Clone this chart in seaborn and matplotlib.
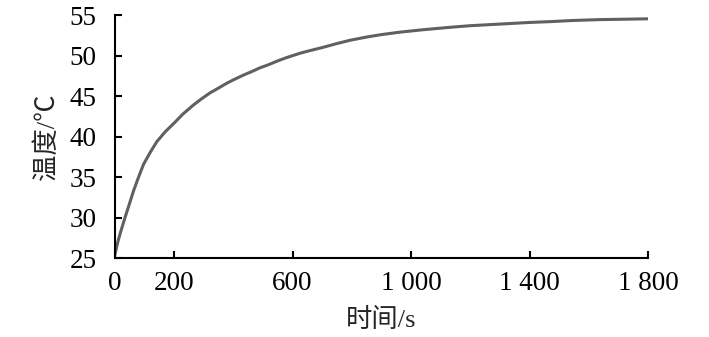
import numpy as np
import pandas as pd
import matplotlib
matplotlib.use('Agg')
import matplotlib.pyplot as plt
import seaborn as sns

sns.set_style('ticks')
plt.rcParams['font.family'] = ['Liberation Serif', 'Noto Sans CJK SC', 'DejaVu Sans']

# values
time_s = [0, 10, 20, 35, 50, 63, 80, 97, 120, 142, 170, 198, 230, 265, 290, 321,
          350, 378, 405, 434, 460, 490, 520, 546, 575, 600, 625, 656, 700, 750,
          794, 850, 900, 962, 1040, 1131, 1200, 1300, 1400, 1468, 1550, 1637,
          1720, 1800]
temp_c = [25.4, 27.0, 28.3, 30.1, 31.8, 33.3, 35.0, 36.6, 38.1, 39.4, 40.6, 41.6,
          42.8, 43.9, 44.6, 45.4, 46.0, 46.6, 47.1, 47.6, 48.0, 48.5, 48.9, 49.3,
          49.7, 50.0, 50.3, 50.6, 51.0, 51.5, 51.9, 52.3, 52.6, 52.9, 53.2, 53.5,
          53.7, 53.9, 54.1, 54.2, 54.35, 54.45, 54.5, 54.55]
x_ticks = [0, 200, 600, 1000, 1400, 1800]
x_tick_labels = ['0', '200', '600', '1 000', '1 400', '1 800']
y_ticks = [25, 30, 35, 40, 45, 50, 55]

df = pd.DataFrame({'time': time_s, 'temp': temp_c})

fig = plt.figure(figsize=(7.09, 3.37), dpi=100)
ax = fig.add_axes([0.162, 0.234, 0.752, 0.721])
sns.lineplot(data=df, x='time', y='temp', ax=ax, color='#606060', linewidth=2.2)

ax.set_xlim(0, 1800)
ax.set_ylim(25, 55)
ax.set_xticks(x_ticks)
ax.set_xticklabels(x_tick_labels)
ax.set_yticks(y_ticks)
ax.tick_params(direction='in', length=5, width=1.5, labelsize=19.5, colors='black')
ax.tick_params(axis='x', pad=9)
ax.tick_params(axis='y', pad=13)
sns.despine(ax=ax)
for s in ['left', 'bottom']:
    ax.spines[s].set_linewidth(1.5)
    ax.spines[s].set_color('black')
ax.set_xlabel('时间/s', fontsize=19, labelpad=9)
ax.set_ylabel('温度/℃', fontsize=19, labelpad=8)

fig.savefig('out.png', dpi=100)
